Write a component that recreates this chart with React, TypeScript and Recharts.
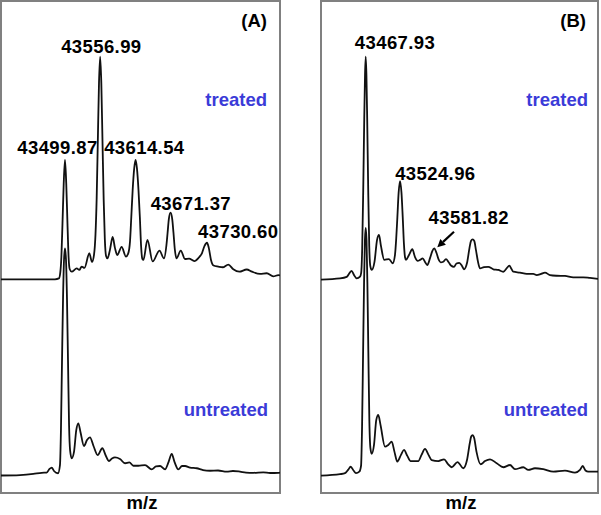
import React from "react";
import { LineChart, Line, XAxis, YAxis, ReferenceDot } from "recharts";

// [m/z, relative intensity %]
type Pt = [number, number];

const treatedA: Pt[] = [
  [43395.9, 0], [43483.6, 0], [43490, 0.4], [43492.2, 3], [43494, 10], [43495.8, 25], [43497.8, 43],
  [43499.87, 53.6], [43501.9, 43], [43503.9, 25], [43505.7, 10], [43507.6, 4.5], [43510.8, 3.4], [43518.9, 4.9],
  [43523.1, 4.2], [43527, 5.7], [43531.5, 5.1], [43539.4, 11.7], [43543.7, 7.8], [43547, 11],
  [43549.4, 20], [43551.3, 36], [43553.2, 62], [43555.1, 88], [43556.99, 100], [43558.9, 88],
  [43560.8, 62], [43562.7, 36], [43564.6, 18], [43566.6, 10.5], [43568.9, 9.4], [43572.9, 13.2],
  [43577.3, 19], [43581, 14.1], [43584.8, 10.9], [43591.9, 14.6], [43598.9, 10.2], [43602.5, 11.5],
  [43605.5, 17], [43607.6, 28], [43609.8, 40], [43612.4, 50], [43614.54, 53.6], [43616.7, 50],
  [43619.3, 40], [43621.5, 28], [43623.5, 15], [43625.5, 9.2], [43627.3, 8.7], [43633.8, 17.7],
  [43642.3, 8], [43653.3, 12.9], [43660.7, 9.4], [43664.7, 15.4], [43666.6, 21], [43668.6, 27],
  [43671.37, 29.9], [43674.1, 27], [43676.1, 21], [43678.3, 13.5], [43681, 9.4], [43688, 12.9],
  [43694.8, 9.1], [43701.4, 9.3], [43710, 8.2], [43716.8, 9.6], [43722.5, 11.8], [43726.6, 15],
  [43730.6, 16.4], [43733.5, 14.1], [43737.1, 8.7], [43741.2, 6.2], [43749, 5.7], [43756.1, 5.4],
  [43765.2, 6.6], [43773.3, 4.5], [43783.1, 3.4], [43795.1, 4.4], [43803.7, 3.4], [43816.7, 2.4],
  [43827.6, 2.7], [43838.3, 1.3], [43846.4, 1.9], [43849.2, 1.7],
];

const untreatedA: Pt[] = [
  [43395.9, 0], [43426.8, 0.2], [43448.4, 0.7], [43462, 1.2], [43470.1, 1.3], [43474.7, 2.9],
  [43478.3, 3.5], [43482, 2], [43488.5, 1], [43491.7, 4.6], [43493.3, 20], [43495, 50],
  [43496.7, 78], [43498.3, 95], [43499.87, 100], [43501.5, 95], [43503.1, 78], [43504.8, 50],
  [43506.5, 22], [43508.2, 11], [43510.8, 7.6], [43514.5, 10.4], [43518.2, 20], [43521.5, 23],
  [43525, 19.2], [43530.7, 13], [43535.6, 15.6], [43540.5, 16.8], [43546.2, 13], [43553, 9],
  [43560.5, 12], [43566.4, 8.6], [43571.4, 6.4], [43576.2, 7.5], [43581.1, 8], [43589.2, 7.3],
  [43597.4, 5.4], [43604.4, 5.8], [43610.9, 4.3], [43619, 4.3], [43629.9, 4.6], [43640.8, 2.7],
  [43647.8, 4], [43654.3, 4.2], [43662.4, 2.7], [43668.1, 5.9], [43673.3, 9.5], [43677.9, 5.9],
  [43684, 2.7], [43690, 4.2], [43694.9, 4.2], [43703, 3.5], [43713.9, 3.2], [43724.1, 2.4],
  [43735.5, 2.1], [43748.5, 2.2], [43762.6, 1.7], [43772.8, 2], [43784.2, 1.7], [43794, 1.3],
  [43805.9, 1.2], [43822.1, 1.4], [43833, 1.1], [43846.5, 1.2], [43849.2, 1.3],
];

const treatedB: Pt[] = [
  [43393.7, 0], [43425.3, 0.5], [43436.4, 1.2], [43441, 2.9], [43444.4, 3.9], [43448.5, 2],
  [43453, 0.5], [43458.5, 1.3], [43460.4, 3], [43462.1, 14], [43463.8, 40], [43465.5, 72],
  [43466.8, 92], [43467.93, 100], [43469.1, 92], [43470.4, 72], [43472.1, 40], [43473.8, 15],
  [43475.6, 6], [43477.9, 4.3], [43482.5, 7.9], [43486.7, 17.7], [43490, 20], [43493.3, 15],
  [43498.8, 8.8], [43506.6, 9.2], [43512.7, 7.3], [43516.5, 11], [43518.5, 18], [43520.5, 28],
  [43522.6, 39], [43524.96, 44.2], [43527.3, 39], [43529.4, 28], [43531.4, 16], [43533.2, 10],
  [43534.8, 8.8], [43539.8, 11], [43545.3, 13.6], [43549.8, 10.1], [43554.3, 8.4], [43558.1, 8.8],
  [43562.6, 9.5], [43566.4, 7.9], [43570.2, 6.5], [43574.7, 9.6], [43578.5, 12.8], [43581.82, 14],
  [43585.5, 11.9], [43589.3, 8.8], [43592.4, 7.7], [43596.7, 8], [43601.2, 9.2], [43605.4, 7.9],
  [43609.5, 6.3], [43614.5, 5.7], [43618.6, 7.2], [43623.3, 7.5], [43627.8, 6.1], [43631.1, 4.6],
  [43636.1, 7.4], [43640.2, 14.1], [43642.7, 17.3], [43645.5, 18], [43648.2, 17.3], [43651, 13.2],
  [43654.4, 7.9], [43657.7, 5], [43664.3, 5.6], [43671.4, 5.7], [43679.8, 4.6], [43688.1, 4.3],
  [43696.3, 3.5], [43702.5, 5.2], [43706.3, 6.2], [43710, 4.7], [43713, 3.5], [43724.1, 3.1],
  [43735.2, 2.5], [43746.2, 2.5], [43751.8, 2], [43758.9, 2.5], [43765.6, 3.1], [43773.9, 2],
  [43785, 1.7], [43798.8, 1.6], [43812.5, 1], [43829.1, 1], [43840.3, 0.7], [43853.6, 0.3],
];

const untreatedB: Pt[] = [
  [43393.7, 0], [43425.3, 0.6], [43433.6, 1], [43438.6, 2.3], [43443, 3.6], [43447.7, 2.1],
  [43451.8, 1], [43457.3, 1.6], [43460.2, 4], [43461.9, 20], [43463.6, 50], [43465.2, 78],
  [43466.6, 95], [43467.93, 100], [43469.3, 95], [43470.7, 78], [43472.3, 50], [43474, 22],
  [43475.8, 11], [43477.9, 8.8], [43481.7, 12.4], [43485.5, 22.5], [43488.8, 24.5], [43492.5, 20.5],
  [43500, 11.7], [43505.4, 12.4], [43511.1, 13.7], [43515.7, 9.6], [43520.4, 5.7], [43526.5, 8.4],
  [43531.5, 10.4], [43537, 8], [43542.6, 5.9], [43555.2, 5.9], [43560.6, 8.4], [43566.4, 10.8],
  [43572.2, 8.4], [43577.5, 6.3], [43588.5, 5.9], [43598, 6.6], [43604.6, 4.7], [43610.7, 3.4],
  [43620.4, 5.5], [43630, 3], [43636.1, 6.3], [43640.8, 13.2], [43643.1, 15.8], [43645.5, 16.4],
  [43648, 15.2], [43651.9, 9.6], [43658.8, 4.6], [43666, 5.9], [43674.3, 6.6], [43685.4, 5],
  [43696.4, 3.4], [43707.5, 4.3], [43715.8, 2.6], [43729.6, 3.4], [43737.9, 2.3], [43749, 3],
  [43762.8, 2.6], [43779.5, 1.6], [43798.8, 2], [43815.4, 1.2], [43823.7, 2.3], [43828.2, 3.9],
  [43832.8, 2.1], [43837.5, 1.6], [43853.6, 1.6],
];

const peaksA = ["43499.87", "43556.99", "43614.54", "43671.37", "43730.60"];
const peaksB = ["43467.93", "43524.96", "43581.82"];
const arrowPeak = "43581.82";
const panelTags = ["(A)", "(B)"];
const sampleLabels = ["treated", "untreated"];
const axisTitle = "m/z";

// where each peak label sits relative to its apex (px)
const tagOffsetA = [[-7.5, -6], [1.2, -3.5], [8.8, -6], [20.3, -2.7], [31.3, -4.4]];
const tagOffsetB = [[29.3, -7.4], [35.3, -1], [34.5, -24.3]];

const FONT = "'Liberation Sans', Arial, sans-serif";
const BLUE = "#3b3bd8";

const toRows = (pts: Pt[]) => pts.map(([mz, y]) => ({ mz, y }));

function PeakTag({ cx, cy, text, dx, dy, arrow }: any) {
  return (
    <g>
      <text x={cx + dx} y={cy + dy} textAnchor="middle" fontSize={18.5} fontWeight="bold"
        letterSpacing={0.4} fill="#000" fontFamily={FONT}>{text}</text>
      {arrow && (
        <g>
          <line x1={cx + 19.7} y1={cy - 16.6} x2={cx + 8.8} y2={cy - 6.5} stroke="#000" strokeWidth={2.2} />
          <polygon points={`${cx + 3},${cy - 1} ${cx + 11.6},${cy - 3.6} ${cx + 6},${cy - 9.4}`} fill="#000" />
        </g>
      )}
    </g>
  );
}

function Panel({ left, width, treated, untreated, peaks, offsets, xDomain, tDomain, uDomain }: any) {
  const tRows = toRows(treated);
  return (
    <div style={{ position: "absolute", left, top: 1 }}>
      <LineChart width={width} height={492} margin={{ top: 0, right: 0, bottom: 0, left: 0 }}>
        <XAxis type="number" dataKey="mz" domain={xDomain} hide allowDataOverflow />
        <YAxis yAxisId="t" type="number" domain={tDomain} hide allowDataOverflow />
        <YAxis yAxisId="u" type="number" domain={uDomain} hide allowDataOverflow />
        <Line yAxisId="u" data={toRows(untreated)} dataKey="y" type="monotone" stroke="#111"
          strokeWidth={1.8} dot={false} activeDot={false} isAnimationActive={false} />
        <Line yAxisId="t" data={tRows} dataKey="y" type="monotone" stroke="#111"
          strokeWidth={1.8} dot={false} activeDot={false} isAnimationActive={false} />
        {peaks.map((p: string, i: number) => {
          const mz = parseFloat(p);
          const apex = tRows.find((r) => Math.abs(r.mz - mz) < 0.01)!.y;
          const [dx, dy] = offsets[i];
          return (
            <ReferenceDot key={p} x={mz} y={apex} yAxisId="t" r={0}
              shape={(s: any) => <PeakTag cx={s.cx} cy={s.cy} text={p} dx={dx} dy={dy} arrow={p === arrowPeak} />} />
          );
        })}
      </LineChart>
    </div>
  );
}

export default function App() {
  const border = "2px solid #808080";
  return (
    <div style={{ position: "absolute", left: 0, top: 0, width: 601, height: 515, background: "#fff" }}>
      <div style={{ position: "absolute", left: 0, top: 0, width: 281, height: 494, border, boxSizing: "border-box" }} />
      <div style={{ position: "absolute", left: 320, top: 0, width: 279, height: 494, border, boxSizing: "border-box" }} />
      <Panel left={1} width={279} treated={treatedA} untreated={untreatedA} peaks={peaksA} offsets={tagOffsetA}
        xDomain={[43395.9, 43849.2]} tDomain={[-96, 125]} uDomain={[-7.7, 209]} />
      <Panel left={321} width={277} treated={treatedB} untreated={untreatedB} peaks={peaksB} offsets={tagOffsetB}
        xDomain={[43393.7, 43853.6]} tDomain={[-95.8, 125]} uDomain={[-7, 191.6]} />
      <svg width={601} height={515} style={{ position: "absolute", left: 0, top: 0, pointerEvents: "none" }}>
        <g fontFamily={FONT} fontWeight="bold" fontSize={18.5}>
          <text x={267} y={27} textAnchor="end" fill="#000">{panelTags[0]}</text>
          <text x={586} y={27} textAnchor="end" fill="#000">{panelTags[1]}</text>
          <text x={267} y={106} textAnchor="end" fill={BLUE}>{sampleLabels[0]}</text>
          <text x={588} y={106} textAnchor="end" fill={BLUE}>{sampleLabels[0]}</text>
          <text x={268} y={416} textAnchor="end" fill={BLUE}>{sampleLabels[1]}</text>
          <text x={588} y={416} textAnchor="end" fill={BLUE}>{sampleLabels[1]}</text>
          <text x={142} y={509} textAnchor="middle" fill="#000">{axisTitle}</text>
          <text x={461} y={509} textAnchor="middle" fill="#000">{axisTitle}</text>
        </g>
      </svg>
    </div>
  );
}
